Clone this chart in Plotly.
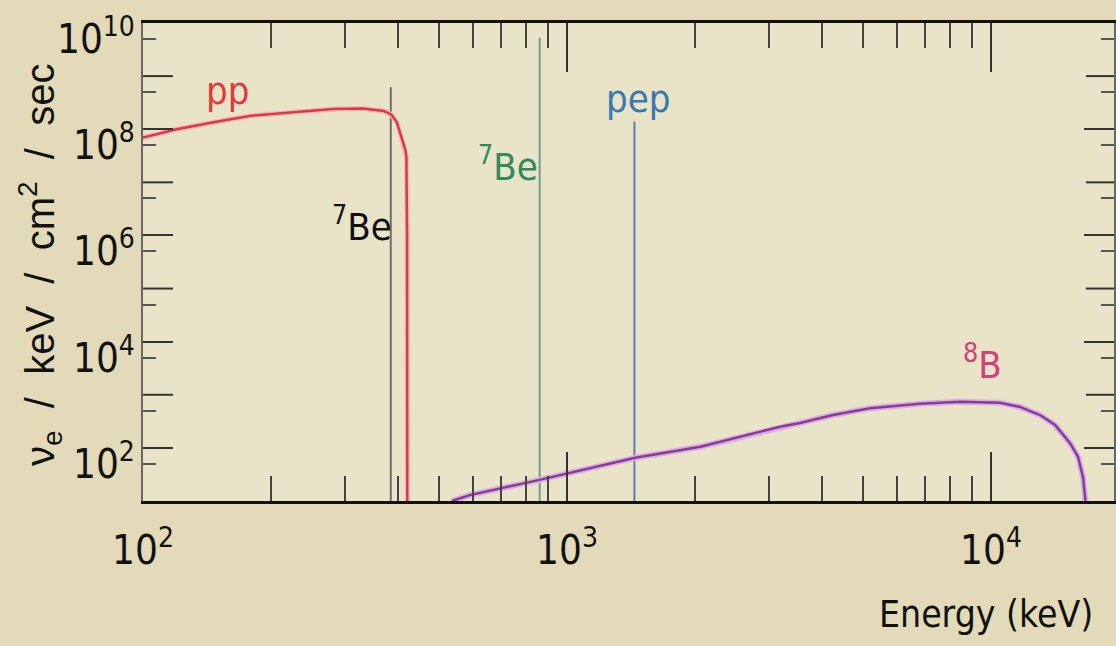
import math
import plotly.graph_objects as go

# pp continuum spectrum (keV, flux per keV per cm^2 per s)
pp_energy = [100, 120, 150, 180, 230, 280, 330, 370, 385, 397, 405, 412, 416, 418, 419.5, 420]
pp_flux = [7.0e7, 1.0e8, 1.4e8, 1.8e8, 2.1e8, 2.4e8, 2.45e8, 2.2e8, 1.9e8, 1.35e8, 8e7, 5e7, 4e7, 3e7, 1e6, 10]

# 8B continuum spectrum
b8_energy = [535, 590, 861, 1448, 2063, 3181, 3543, 4240, 5183, 6800, 8452, 10500,
             11700, 13050, 14160, 15360, 16040, 16480, 16660, 16700]
b8_flux = [10, 12.9, 25, 65, 105, 250, 295, 415, 560, 680, 740, 710,
           590, 415, 270, 123, 68, 28, 12, 10]

# mono-energetic lines
line_names = ["7Be384", "7Be862", "pep"]
line_energy = [384, 862, 1442]
line_flux = [6.2e8, 5.3e9, 1.4e8]
line_colors = ["#6e6e6e", "#6f9c8a", "#5a7fb8"]

# labels
label_text = ["pp", "<sup>7</sup>Be", "<sup>7</sup>Be", "pep", "<sup>8</sup>B"]
label_x = [158, 328, 726, 1469, 9530]
label_logy = [8.72, 6.21, 7.34, 8.57, 3.62]
label_colors = ["#e23a3a", "#111111", "#2f8a5c", "#3a78b0", "#d0407a"]

# axis ticks
X_MAX_LOG = 4.29
x_major = [100, 1000, 10000]
x_major_text = ["10<sup>2</sup>", "10<sup>3</sup>", "10<sup>4</sup>"]
x_minor = [m * 10 ** d for d in (2, 3) for m in range(2, 10)]
y_labelled_exp = [2, 4, 6, 8, 10]
y_labelled = [10 ** k for k in y_labelled_exp]
y_labelled_text = ["10<sup>%d</sup>" % k for k in y_labelled_exp]
y_unlabelled = [10 ** k for k in (3, 5, 7, 9)]
y_minor = [5 * 10 ** k for k in range(1, 10)]

NARROW = "Liberation Sans Narrow, Arial Narrow, DejaVu Sans Condensed, Liberation Sans, Arial, sans-serif"

fig = go.Figure()

for name, e, f, c in zip(line_names, line_energy, line_flux, line_colors):
    fig.add_trace(go.Scatter(x=[e, e], y=[10, f], mode="lines",
                             line=dict(color=c, width=2), name=name, showlegend=False))

fig.add_trace(go.Scatter(x=pp_energy, y=pp_flux, mode="lines",
                         line=dict(color="#f4b8b8", width=5), showlegend=False, hoverinfo="skip"))
fig.add_trace(go.Scatter(x=pp_energy, y=pp_flux, mode="lines",
                         line=dict(color="#d83a4a", width=2.5), name="pp", showlegend=False))
fig.add_trace(go.Scatter(x=b8_energy, y=b8_flux, mode="lines",
                         line=dict(color="#d8b0e0", width=6), showlegend=False, hoverinfo="skip"))
fig.add_trace(go.Scatter(x=b8_energy, y=b8_flux, mode="lines",
                         line=dict(color="#8a3a9a", width=2.5), name="8B", showlegend=False))

for t, x, ly, c in zip(label_text, label_x, label_logy, label_colors):
    fig.add_annotation(x=math.log10(x), y=ly, text=t, showarrow=False,
                       font=dict(family=NARROW, size=38, color=c),
                       xanchor="center", yanchor="middle")

# y tick labels (sit slightly below their ticks, as in the original slide)
for k, t in zip(y_labelled_exp, y_labelled_text):
    fig.add_annotation(xref="paper", yref="y", x=-0.006, y=k, yshift=-13, text=t,
                       showarrow=False, xanchor="right", yanchor="middle",
                       font=dict(family=NARROW, size=40, color="#111111"))

# long ticks at the unlabelled decades (left and right frame)
for v in y_unlabelled:
    for x0, x1 in ((0, 30 / 971), (1 - 28 / 971, 1)):
        fig.add_shape(type="line", xref="x domain", yref="y", x0=x0, x1=x1,
                      y0=v, y1=v, line=dict(color="#333333", width=2))

fig.add_annotation(xref="paper", yref="paper", x=-0.106, y=0.494, textangle=-90,
                   text="ν<sub>e</sub>  /  keV  /  cm<sup>2</sup>  /  sec", showarrow=False,
                   font=dict(family="Liberation Sans, Arial, sans-serif", size=40, color="#111111"),
                   xanchor="center", yanchor="middle")
fig.add_annotation(xref="paper", yref="paper", x=0.980, y=-0.238,
                   text="Energy (keV)", showarrow=False,
                   font=dict(family=NARROW, size=37, color="#111111"),
                   xanchor="right", yanchor="middle")

fig.update_xaxes(type="log", range=[2, X_MAX_LOG], tickmode="array", tickvals=x_major,
                 ticktext=x_major_text, ticks="inside", ticklen=49, tickwidth=2,
                 tickcolor="#333333", showline=True, linecolor="#111111", linewidth=3,
                 mirror="allticks", showgrid=False, zeroline=False, automargin=False,
                 tickfont=dict(family=NARROW, size=40, color="#111111"),
                 ticklabelstandoff=12,
                 minor=dict(tickmode="array", tickvals=x_minor, ticks="inside", ticklen=25,
                            tickwidth=2, tickcolor="#444444", showgrid=False))
fig.update_yaxes(type="log", range=[1, 10], tickmode="array", tickvals=y_labelled,
                 showticklabels=False, ticks="inside", ticklen=30, tickwidth=2,
                 tickcolor="#333333", showline=True, linecolor="#666666", linewidth=2,
                 mirror="allticks", showgrid=False, zeroline=False, automargin=False,
                 minor=dict(tickmode="array", tickvals=y_minor, ticks="inside", ticklen=13,
                            tickwidth=2, tickcolor="#555555", showgrid=False))

fig.update_layout(width=1116, height=646, margin=dict(l=143, r=2, t=23, b=145, autoexpand=False),
                  paper_bgcolor="#e2dab8", plot_bgcolor="#e9e3c8", showlegend=False)

fig.write_html("out.html")
